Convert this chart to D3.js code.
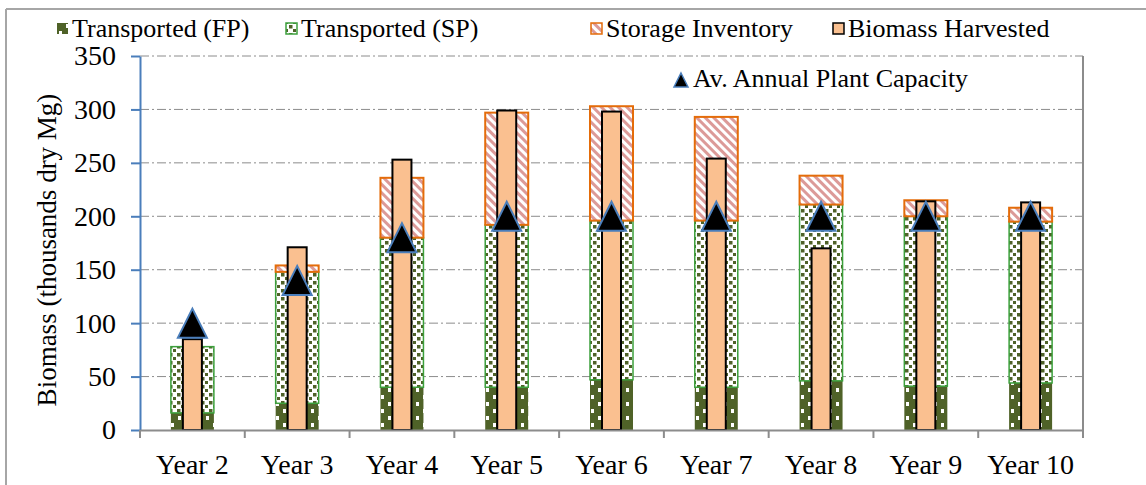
<!DOCTYPE html>
<html><head><meta charset="utf-8">
<script src="https://cdn.jsdelivr.net/npm/d3@7"></script>
<style>
body{margin:0;background:#fff}
text{font-family:"Liberation Serif","Times New Roman",serif;fill:#000}
</style>
</head><body><div id="chart"></div>
<script>
var years = ["Year 2","Year 3","Year 4","Year 5","Year 6","Year 7","Year 8","Year 9","Year 10"];
var transportedFP = [16,25,40,40,47,40,46,41,44];
var transportedSP = [62,123,140,152,149,156,165,159,151];
var storageInventory = [0,6,56,105,107,97,27,15,13];
var biomassHarvested = [85,171,253,299,298,254,170,214,213];
var plantCapacity = [100,140,180,200,200,200,200,200,200];
var yTicks = [0,50,100,150,200,250,300,350];

var width = 1146, height = 485;
var svg = d3.select("#chart").append("svg")
    .attr("width", width)
    .attr("height", height);

var defs = svg.append("defs");
// dark green with white specks
var p1 = defs.append("pattern").attr("id","fp").attr("patternUnits","userSpaceOnUse")
    .attr("width",14).attr("height",14);
p1.append("rect").attr("width",14).attr("height",14).attr("fill","#4f6228");
p1.append("rect").attr("x",3).attr("y",3).attr("width",3).attr("height",4).attr("fill","#fff");
p1.append("rect").attr("x",10).attr("y",10).attr("width",3).attr("height",4).attr("fill","#fff");
// white with green dots
var p2 = defs.append("pattern").attr("id","sp").attr("patternUnits","userSpaceOnUse")
    .attr("width",8).attr("height",8);
p2.append("rect").attr("width",8).attr("height",8).attr("fill","#fff");
p2.append("rect").attr("x",1).attr("y",1).attr("width",3.5).attr("height",3.5).attr("fill","#4f6228");
p2.append("rect").attr("x",5).attr("y",5).attr("width",3.5).attr("height",3.5).attr("fill","#4f6228");
// pink diagonal stripes
var p3 = defs.append("pattern").attr("id","sto").attr("patternUnits","userSpaceOnUse")
    .attr("width",6).attr("height",6).attr("patternTransform","rotate(-45)");
p3.append("rect").attr("width",6).attr("height",6).attr("fill","#fff");
p3.append("rect").attr("width",3).attr("height",6).attr("fill","#dc9a98");

// outer chart frame
svg.append("line").attr("x1",6).attr("x2",width).attr("y1",9).attr("y2",9)
    .style("stroke","#a6a6a6").style("stroke-width",2);
svg.append("line").attr("x1",6).attr("x2",6).attr("y1",9).attr("y2",height)
    .style("stroke","#a6a6a6").style("stroke-width",2);

var x = d3.scaleBand().domain(years).range([140,1083]);
var y = d3.scaleLinear().domain([0,350]).range([430,56]);

// gridlines
svg.selectAll("line.grid")
    .data(yTicks.slice(1))
  .enter().append("line")
    .attr("class","grid")
    .attr("x1",140).attr("x2",1083)
    .attr("y1",function(d){ return y(d); })
    .attr("y2",function(d){ return y(d); })
    .style("stroke","#8c8c8c")
    .style("stroke-width",1)
    .style("stroke-dasharray","9,3,2,3");

// right border of plot area
svg.append("line").attr("x1",1083).attr("x2",1083).attr("y1",y(350)).attr("y2",438)
    .style("stroke","#8c8c8c").style("stroke-width",2);

var wide = 43, narrow = 19;
function cx(i){ return x(years[i]) + x.bandwidth()/2; }

var rows = years.map(function(d,i){
  return { i:i, fp:transportedFP[i], sp:transportedSP[i], st:storageInventory[i],
           hv:biomassHarvested[i], cap:plantCapacity[i] };
});

svg.selectAll("rect.fp")
    .data(rows)
  .enter().append("rect")
    .attr("class","fp")
    .attr("x",function(d){ return cx(d.i)-wide/2; })
    .attr("width",wide)
    .attr("y",function(d){ return y(d.fp); })
    .attr("height",function(d){ return y(0)-y(d.fp); })
    .style("fill","url(#fp)");

svg.selectAll("rect.sp")
    .data(rows)
  .enter().append("rect")
    .attr("class","sp")
    .attr("x",function(d){ return cx(d.i)-wide/2; })
    .attr("width",wide)
    .attr("y",function(d){ return y(d.fp+d.sp); })
    .attr("height",function(d){ return y(d.fp)-y(d.fp+d.sp); })
    .style("fill","url(#sp)")
    .style("stroke","#3ca03c")
    .style("stroke-width",1.5);

svg.selectAll("rect.st")
    .data(rows.filter(function(d){ return d.st > 0; }))
  .enter().append("rect")
    .attr("class","st")
    .attr("x",function(d){ return cx(d.i)-wide/2; })
    .attr("width",wide)
    .attr("y",function(d){ return y(d.fp+d.sp+d.st); })
    .attr("height",function(d){ return y(d.fp+d.sp)-y(d.fp+d.sp+d.st); })
    .style("fill","url(#sto)")
    .style("stroke","#e46c0a")
    .style("stroke-width",2);

svg.selectAll("rect.hv")
    .data(rows)
  .enter().append("rect")
    .attr("class","hv")
    .attr("x",function(d){ return cx(d.i)-narrow/2; })
    .attr("width",narrow)
    .attr("y",function(d){ return y(d.hv); })
    .attr("height",function(d){ return y(0)-y(d.hv); })
    .style("fill","#fac090")
    .style("stroke","#000")
    .style("stroke-width",2);

// triangle marker, centred on its box like the spreadsheet's markers
function triangle(s) {
  return "M0," + (-s/2) + "L" + (s/2) + "," + (s/2) + "L" + (-s/2) + "," + (s/2) + "Z";
}
svg.selectAll("path.cap")
    .data(rows)
  .enter().append("path")
    .attr("class","cap")
    .attr("d",triangle(29))
    .attr("transform",function(d){ return "translate("+cx(d.i)+","+y(d.cap)+")"; })
    .style("fill","#000")
    .style("stroke","#4a7ebb")
    .style("stroke-width",2);

// y axis
var yAxis = svg.append("g")
    .attr("transform","translate(140,0)")
    .call(d3.axisLeft(y).tickValues(yTicks).tickSize(9).tickSizeOuter(0).tickPadding(15));
yAxis.select(".domain").style("stroke","#4a7ebb").style("stroke-width",2);
yAxis.selectAll(".tick line").style("stroke","#4a7ebb").style("stroke-width",2);
yAxis.selectAll("text").style("font-size","28px").style("font-family","Liberation Serif");

// x axis
var xAxis = svg.append("g")
    .attr("transform","translate(0,430)")
    .call(d3.axisBottom(x).tickSize(0).tickPadding(24).tickSizeOuter(0));
xAxis.select(".domain").style("stroke","#8c8c8c").style("stroke-width",2);
xAxis.selectAll("text").style("font-size","28px").style("font-family","Liberation Serif");
var bounds = years.map(function(d){ return x(d); }).concat([x.range()[1]]);
svg.selectAll("line.xtick")
    .data(bounds)
  .enter().append("line")
    .attr("class","xtick")
    .attr("x1",function(d){ return d; }).attr("x2",function(d){ return d; })
    .attr("y1",430).attr("y2",438)
    .style("stroke","#8c8c8c").style("stroke-width",2);

svg.append("text")
    .attr("transform","translate(56,250) rotate(-90)")
    .attr("text-anchor","middle")
    .style("font-size","27px")
    .text("Biomass (thousands dry Mg)");

// legend
var leg = [
  { name:"Transported (FP)", x:57, fill:"url(#fp)", stroke:"none" },
  { name:"Transported (SP)", x:286, fill:"url(#sp)", stroke:"#3ca03c" },
  { name:"Storage Inventory", x:591, fill:"url(#sto)", stroke:"#e46c0a" },
  { name:"Biomass Harvested", x:833, fill:"#fac090", stroke:"#000" }
];
var lg = svg.selectAll("g.leg")
    .data(leg)
  .enter().append("g")
    .attr("class","leg");
lg.append("rect")
    .attr("x",function(d){ return d.x; })
    .attr("y",23).attr("width",11).attr("height",11)
    .style("fill",function(d){ return d.fill; })
    .style("stroke",function(d){ return d.stroke; })
    .style("stroke-width",1.5);
lg.append("text")
    .attr("x",function(d){ return d.x+15; })
    .attr("y",37)
    .style("font-size","26px")
    .text(function(d){ return d.name; });

svg.append("path")
    .attr("d",triangle(14))
    .attr("transform","translate(681,80)")
    .style("fill","#000").style("stroke","#4a7ebb").style("stroke-width",1.5);
svg.append("text")
    .attr("x",693).attr("y",87)
    .style("font-size","26px")
    .text("Av. Annual Plant Capacity");
</script>
</body></html>
